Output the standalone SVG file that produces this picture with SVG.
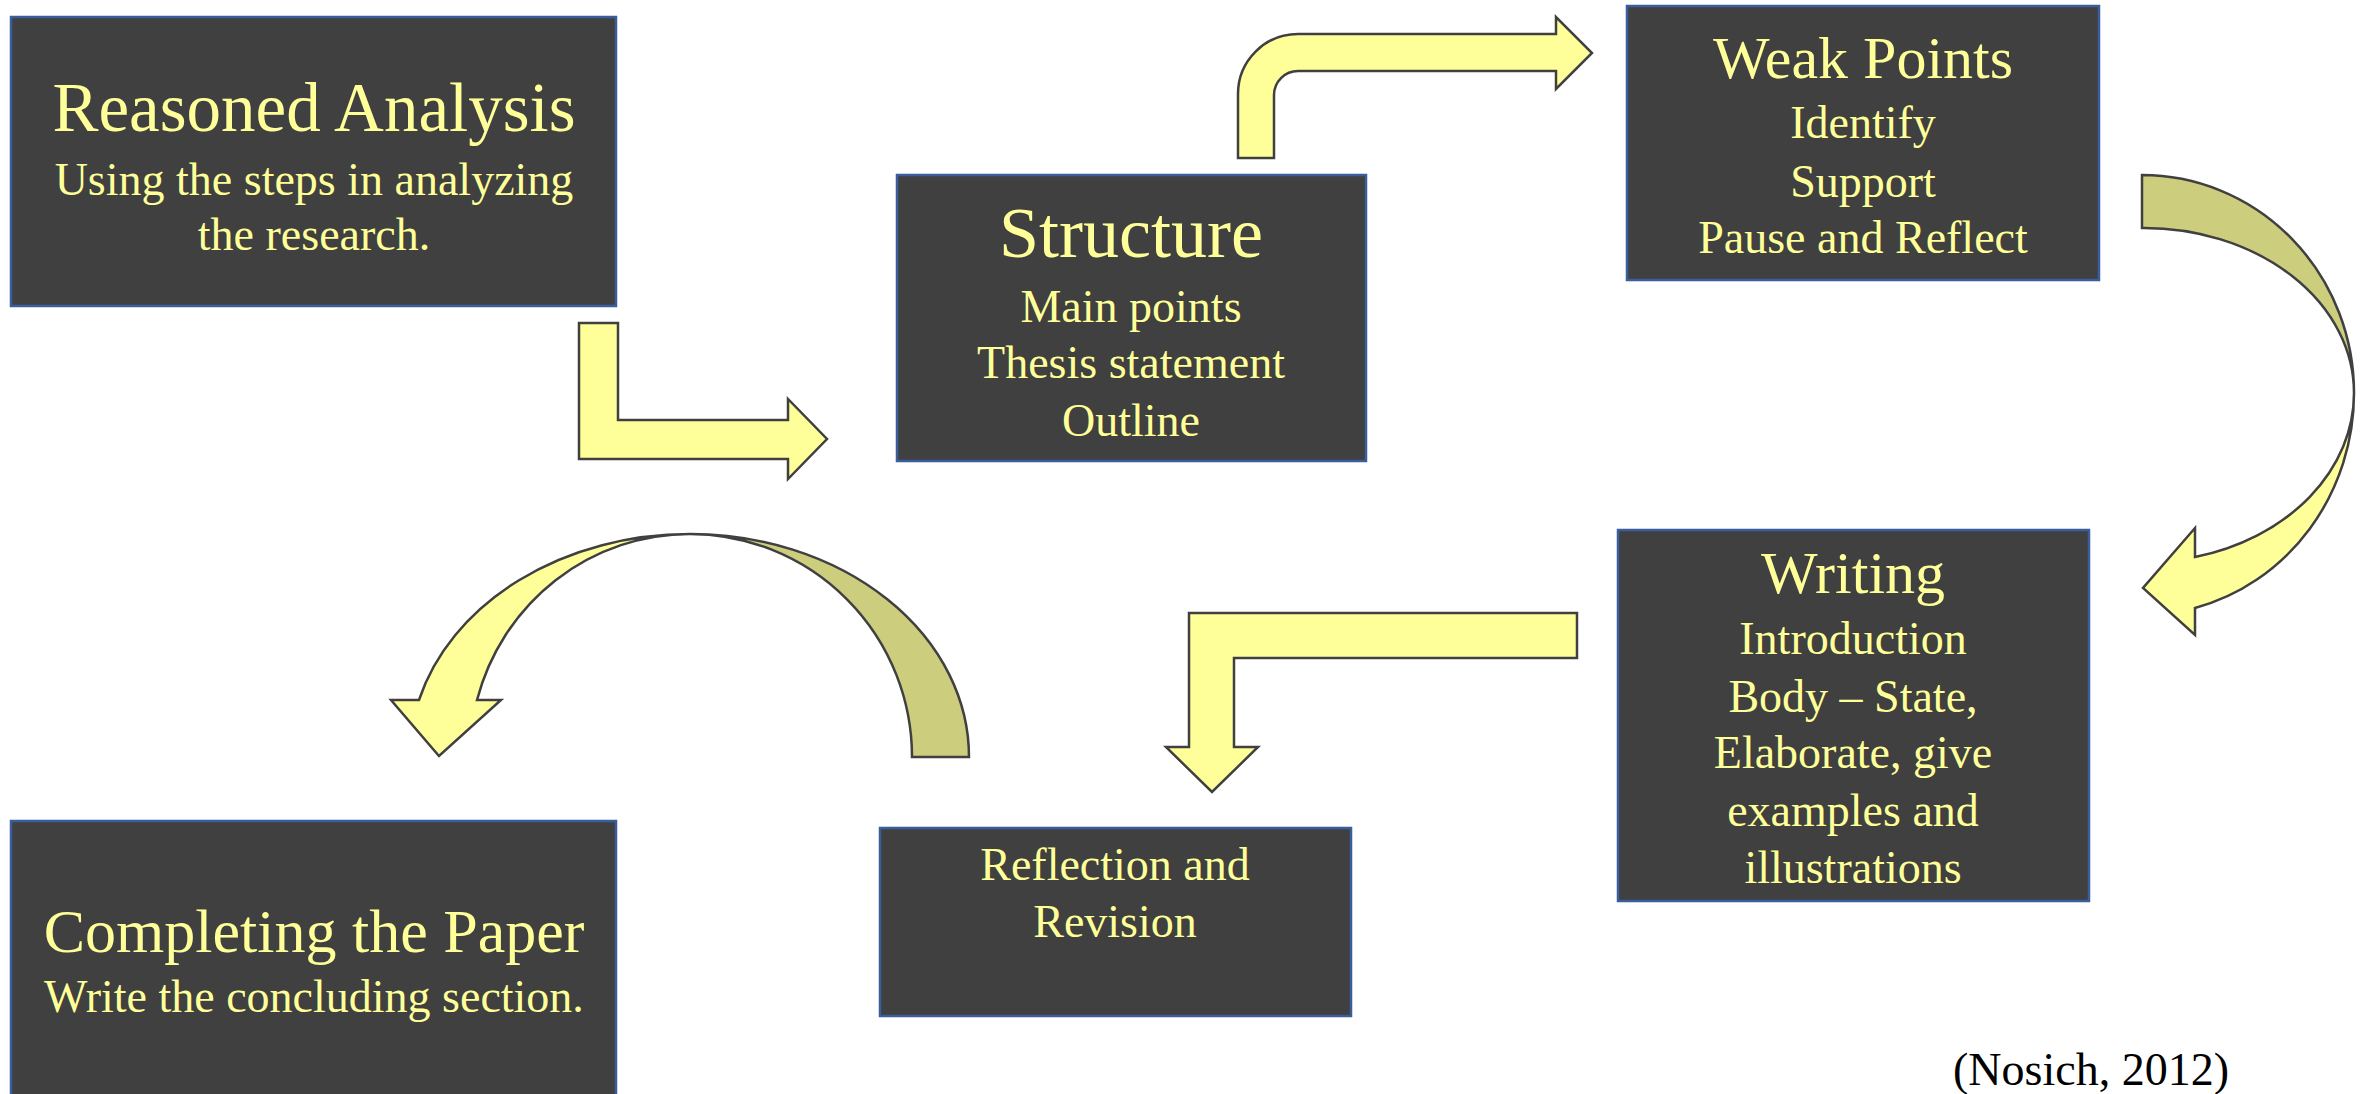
<svg xmlns="http://www.w3.org/2000/svg" width="2367" height="1094" viewBox="0 0 2367 1094">
<style>
.box{fill:#404040;stroke:#3A5E9C;stroke-width:2.5}
.t{font-family:"Liberation Serif","Times New Roman",serif;fill:#FFFF99;text-anchor:middle}
.s{font-size:46px}
.arw{fill:#FFFF99;stroke:#404040;stroke-width:2.5;stroke-linejoin:miter}
.back{fill:#CDCD7E;stroke:#404040;stroke-width:2.5}
.cite{font-family:"Liberation Serif","Times New Roman",serif;font-size:46px;fill:#000}
</style>
<rect width="2367" height="1094" fill="#FFFFFF"/>
<g id="connectors">
  <path class="arw" d="M579,323 H618 V420 H788 V399 L827,439 L788,479 V459 H579 Z"/>
  <path class="arw" d="M1238,158 V94 A60,60 0 0 1 1298,34 H1556 V17 L1592,53 L1556,89 V71 H1298 A24,24 0 0 0 1274,95 V158 Z"/>
  <path class="back" d="M2142,175 A212,218 0 0 1 2354,393 A210,165 0 0 0 2142,228 Z"/>
  <path class="arw" d="M2354,393 A212,222 0 0 1 2195,608 L2195,635 L2143,588 L2195,528 L2195,557 A210,169 0 0 0 2354,393 Z"/>
  <path class="arw" d="M1577,613 V658 H1234 V747 H1258 L1212,792 L1166,747 H1189 V613 Z"/>
  <path class="back" d="M690,534 A279,223 0 0 1 969,757 H912 A222,223 0 0 0 690,534 Z"/>
  <path class="arw" d="M690,534 A280,223 0 0 0 419,700 H391 L439,756 L501,700 H477 A220,223 0 0 1 690,534 Z"/>
</g>
<g id="node-reasoned">
  <rect class="box" x="11" y="17" width="605" height="289"/>
  <text class="t" x="314" y="131" font-size="69">Reasoned Analysis</text>
  <text class="t s" x="314" y="195">Using the steps in analyzing</text>
  <text class="t s" x="314" y="250">the research.</text>
</g>
<g id="node-structure">
  <rect class="box" x="897" y="175" width="469" height="286"/>
  <text class="t" x="1131" y="257" font-size="72">Structure</text>
  <text class="t s" x="1131" y="322">Main points</text>
  <text class="t s" x="1131" y="378">Thesis statement</text>
  <text class="t s" x="1131" y="436">Outline</text>
</g>
<g id="node-weak">
  <rect class="box" x="1627" y="6" width="472" height="274"/>
  <text class="t" x="1863" y="78" font-size="60">Weak Points</text>
  <text class="t s" x="1863" y="138">Identify</text>
  <text class="t s" x="1863" y="197">Support</text>
  <text class="t s" x="1863" y="253">Pause and Reflect</text>
</g>
<g id="node-writing">
  <rect class="box" x="1618" y="530" width="471" height="371"/>
  <text class="t" x="1853" y="593" font-size="60">Writing</text>
  <text class="t s" x="1853" y="654">Introduction</text>
  <text class="t s" x="1853" y="712">Body – State,</text>
  <text class="t s" x="1853" y="768">Elaborate, give</text>
  <text class="t s" x="1853" y="826">examples and</text>
  <text class="t s" x="1853" y="883">illustrations</text>
</g>
<g id="node-reflection">
  <rect class="box" x="880" y="828" width="471" height="188"/>
  <text class="t s" x="1115" y="880">Reflection and</text>
  <text class="t s" x="1115" y="937">Revision</text>
</g>
<g id="node-completing">
  <rect class="box" x="11" y="821" width="605" height="280"/>
  <text class="t" x="314" y="952" font-size="62">Completing the Paper</text>
  <text class="t s" x="314" y="1012">Write the concluding section.</text>
</g>
<text class="cite" x="1953" y="1085">(Nosich, 2012)</text>
</svg>
